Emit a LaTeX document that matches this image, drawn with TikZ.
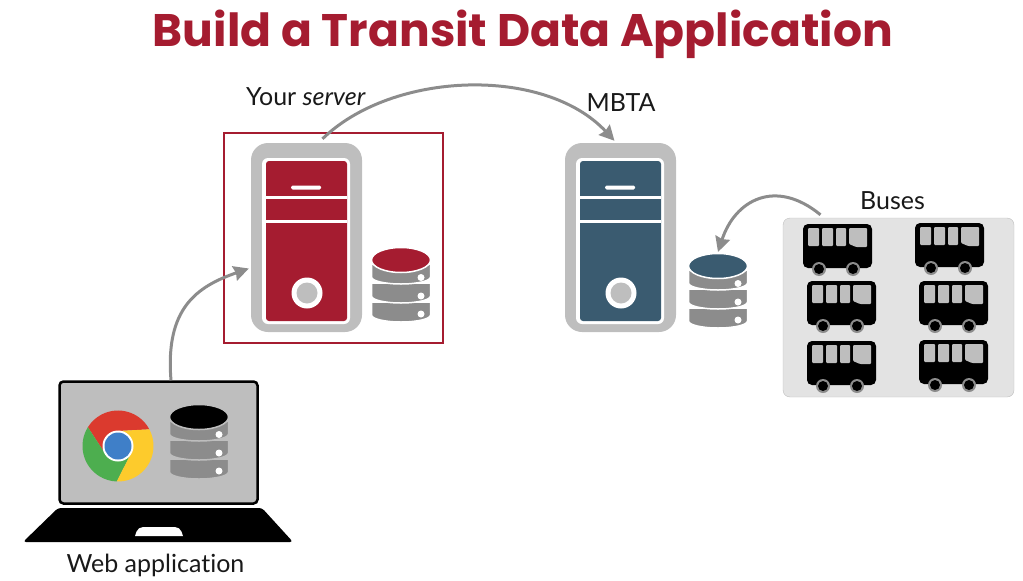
\documentclass[tikz,border=0pt]{standalone}
\usepackage{fontspec}
\setmainfont[Ligatures=NoCommon]{Lato}
\newfontfamily\titlefont{Poppins}
\usetikzlibrary{arrows.meta}
\definecolor{crimson}{HTML}{A51C30}
\definecolor{slateteal}{HTML}{3A5B70}
\definecolor{casegray}{HTML}{BEBEBE}
\definecolor{stackgray}{HTML}{8C8C8C}
\definecolor{panelgray}{HTML}{E3E3E3}
\definecolor{chromered}{HTML}{DB3A2E}
\definecolor{chromegreen}{HTML}{4DAE4F}
\definecolor{chromeyellow}{HTML}{FDCB2C}
\definecolor{chromeblue}{HTML}{3F7FC8}
\tikzset{
  flow/.style={draw=stackgray,line width=3pt,-{Stealth[length=15pt,width=15pt,inset=1.5pt]}},
  caption/.style={font=\fontsize{25}{29}\selectfont,text=black!90,inner sep=0pt},
  pics/tower/.style={code={
    \node[fill=casegray,rounded corners=17pt,minimum width=111pt,minimum height=189pt,inner sep=0pt] (-outer) at (55.5,94.5) {};
    \fill[white,rounded corners=6pt] (11,15) rectangle (99,181);
    \fill[#1,rounded corners=3pt] (15,18) rectangle (96,178);
    \fill[white] (15,52.5) rectangle (96,55.5);
    \fill[white] (15,76.5) rectangle (96,79.5);
    \fill[white,rounded corners=1.5pt] (40,42.5) rectangle (70,46.5);
    \fill[white] (56,150) circle (15.5);
    \fill[casegray] (56,150) circle (10.5);
  }},
  pics/dbstack/.style 2 args={code={
    \coordinate (-head) at (0,-14);
    \foreach \y in {42,23,4}
      \filldraw[fill=stackgray,draw=#2,line width=1.5pt] (-29.5,\y) -- (-29.5,\y+13) arc[start angle=180,delta angle=-180,x radius=29.5,y radius=7] -- (29.5,\y) -- cycle;
    \filldraw[fill=#1,draw=#2,line width=1.5pt] (0,0) ellipse (29.5 and 12.5);
    \foreach \y in {17.5,36,54}
      \fill[white] (20,\y) circle (3.5);
  }},
  pics/bus/.style={code={
    \fill[black,rounded corners=5pt] (0,0) rectangle (69,44);
    \fill[casegray,rounded corners=1pt] (5,4) rectangle (16,22);
    \fill[casegray,rounded corners=1pt] (19,4) rectangle (30,22);
    \fill[casegray,rounded corners=1pt] (33,4) rectangle (43,22);
    \fill[casegray,rounded corners=1pt] (46,4) -- (64,4) -- (64,23) -- (53,23) -- (46,20) -- cycle;
    \foreach \x in {16,50} {
      \fill[stackgray] (\x,45) circle (7);
      \fill[black] (\x,45) circle (5);
    }
  }},
  pics/chrome/.style={code={
    \foreach \col/\a in {chromered/28,chromegreen/148,chromeyellow/268}
      \fill[\col] (-\a:35.5) arc[start angle=-\a,delta angle=-120,radius=35.5] -- ({-\a-182}:15) -- (0,0) -- ({-\a-62}:15) -- cycle;
    \fill[white] (0,0) circle (15.5);
    \fill[chromeblue] (0,0) circle (13.5);
  }}
}
\begin{document}
\begin{tikzpicture}[x=1pt,y=-1pt]
\useasboundingbox (0,0) rectangle (1023,581);
\node[inner sep=0pt,text=crimson,font=\titlefont\bfseries\fontsize{45.6}{50}\selectfont] (title) at (523,34) {Build a Transit Data Application};

\node[draw=crimson,line width=2.5pt,minimum width=219pt,minimum height=210pt,inner sep=0pt] (yourbox) at (333.5,238) {};
\pic (red) at (251,143) {tower=crimson};
\pic (reddb) at (401,260) {dbstack={crimson}{white}};
\pic (teal) at (565,143) {tower=slateteal};
\pic (tealdb) at (718,266) {dbstack={slateteal}{white}};

\node[fill=panelgray,draw=casegray,rounded corners=7pt,minimum width=231pt,minimum height=179pt,inner sep=0pt] (buspanel) at (898.5,307.5) {};
\foreach \x/\y in {803/224,915/223,807/281,919/281,807/341,919/340}
  \pic at (\x,\y) {bus};

\node[fill=casegray,draw=black,line width=2.5pt,rounded corners=4pt,minimum width=198pt,minimum height=122pt,inner sep=0pt] (screen) at (158.5,442.5) {};
\pic at (118,446) {chrome};
\pic (webdb) at (199,417) {dbstack={black}{casegray}};
\fill[black,rounded corners=3pt] (58,508) -- (262,508) -- (293,542) -- (23,542) -- cycle;
\fill[white] (135,536) [rounded corners=5pt] -- (138,527) -- (180,527) [sharp corners] -- (183,536) -- cycle;

\node[caption] (yourlabel) at (306,97) {Your \textit{server}};
\node[caption] (mbtalabel) at (621,103) {MBTA};
\node[caption] (buslabel) at (892.5,201) {Buses};
\node[caption] (weblabel) at (155.5,565) {Web application};

\draw[flow] ([xshift=12.5pt]screen.north) .. controls +(-6,-72) and +(-52,18) .. ([xshift=-2pt,yshift=-31pt]red-outer.west);
\draw[flow] ([xshift=16pt,yshift=4pt]red-outer.north) .. controls +(70,-68) and +(-70,-75) .. ([xshift=-6pt,yshift=2pt]teal-outer.north);
\draw[flow] ([xshift=-78pt,yshift=3pt]buspanel.north) .. controls +(-45,-37) and +(17,-52) .. (tealdb-head);
\end{tikzpicture}
\end{document}
